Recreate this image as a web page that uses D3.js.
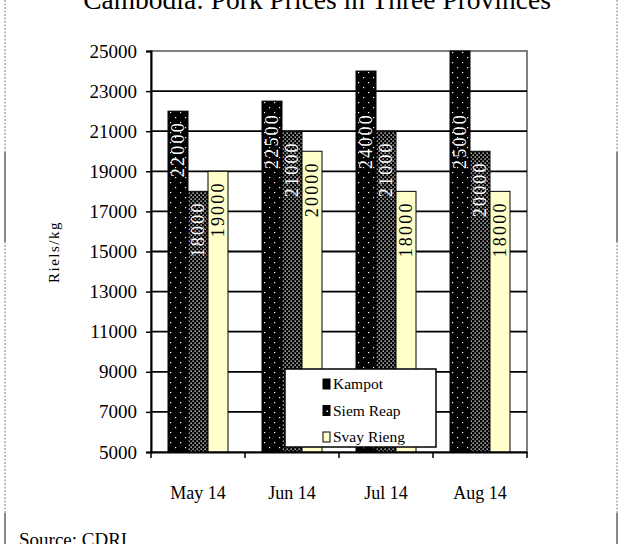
<script src='https://cdnjs.cloudflare.com/ajax/libs/d3/7.8.5/d3.min.js'></script>

<style>
  body { margin: 0; background: #fff; }
  svg text { font-family: "Liberation Serif", "Times New Roman", serif; fill: #000; }
</style>

<body>
<script>
  // chart data
  var months = ["May 14", "Jun 14", "Jul 14", "Aug 14"];
  var provinces = ["Kampot", "Siem Reap", "Svay Rieng"];
  var kampot = [22000, 22500, 24000, 25000];
  var siemReap = [18000, 21000, 21000, 20000];
  var svayRieng = [19000, 20000, 18000, 18000];
  var yTicks = [5000, 7000, 9000, 11000, 13000, 15000, 17000, 19000, 21000, 23000, 25000];

  var series = [kampot, siemReap, svayRieng];
  var fills = ["url(#dotsSparse)", "url(#dotsDense)", "#ffffcc"];
  var labelColors = ["#fff", "#fff", "#000"];

  var width = 621, height = 544;
  var plotLeft = 151, plotRight = 527, plotTop = 51, plotBottom = 452;

  var svg = d3.select("body").append("svg")
    .attr("width", width)
    .attr("height", height);

  // fill patterns
  var defs = svg.append("defs");
  var p1 = defs.append("pattern").attr("id", "dotsSparse")
    .attr("width", 10).attr("height", 10).attr("patternUnits", "userSpaceOnUse");
  p1.append("rect").attr("width", 10).attr("height", 10).attr("fill", "#000");
  p1.append("rect").attr("x", 2).attr("y", 2).attr("width", 1.2).attr("height", 1.2).attr("fill", "#fff");
  p1.append("rect").attr("x", 7).attr("y", 7).attr("width", 1.2).attr("height", 1.2).attr("fill", "#fff");

  var p2 = defs.append("pattern").attr("id", "dotsDense")
    .attr("width", 4).attr("height", 4).attr("patternUnits", "userSpaceOnUse");
  p2.append("rect").attr("width", 4).attr("height", 4).attr("fill", "#000");
  p2.append("rect").attr("x", 0.5).attr("y", 0.5).attr("width", 1.3).attr("height", 1.3).attr("fill", "#fff");
  p2.append("rect").attr("x", 2.5).attr("y", 2.5).attr("width", 1.3).attr("height", 1.3).attr("fill", "#fff");

  // page border
  [5, 617].forEach(function(xx) {
    svg.append("line").attr("x1", xx).attr("x2", xx).attr("y1", 0).attr("y2", height)
      .attr("stroke", "#aaa").attr("stroke-width", 1.5).attr("stroke-dasharray", "2,1.5");
    [[152, 242], [513, 544]].forEach(function(s) {
      svg.append("line").attr("x1", xx).attr("x2", xx).attr("y1", s[0]).attr("y2", s[1])
        .attr("stroke", "#888").attr("stroke-width", 2);
    });
  });

  var x = d3.scaleBand().domain(months).range([plotLeft, plotRight]).paddingInner(0).paddingOuter(0);
  var xs = d3.scaleBand().domain(provinces).range([0, 60]);
  var y = d3.scaleLinear().domain([5000, 25000]).range([plotBottom, plotTop]);

  // title
  svg.append("text").attr("x", 317).attr("y", 9)
    .attr("text-anchor", "middle").style("font-size", "27.5px")
    .text("Cambodia: Pork Prices in Three Provinces");

  // plot border (top/right)
  svg.append("rect").attr("x", plotLeft).attr("y", plotTop)
    .attr("width", plotRight - plotLeft).attr("height", plotBottom - plotTop)
    .attr("fill", "none").attr("stroke", "#808080").attr("stroke-width", 2);

  // gridlines
  svg.selectAll(".grid").data(yTicks.filter(function(d) { return d > 5000 && d < 25000; }))
    .enter().append("line")
    .attr("x1", plotLeft).attr("x2", plotRight)
    .attr("y1", function(d) { return y(d); }).attr("y2", function(d) { return y(d); })
    .attr("stroke", "#000").attr("stroke-width", 1.8);

  // bars
  var groups = svg.selectAll(".grp").data(months).enter().append("g")
    .attr("transform", function(d) { return "translate(" + (x(d) + (x.bandwidth() - 60) / 2) + ",0)"; });

  provinces.forEach(function(p, si) {
    groups.append("rect")
      .attr("x", xs(p))
      .attr("y", function(d, i) { return y(series[si][i]); })
      .attr("width", xs.bandwidth())
      .attr("height", function(d, i) { return plotBottom - y(series[si][i]); })
      .attr("fill", fills[si])
      .attr("stroke", "#000").attr("stroke-width", 1);
  });

  provinces.forEach(function(p, si) {
    groups.append("text")
      .attr("transform", function(d, i) {
        var ty = Math.max(y(series[si][i]) + 10, 113);
        return "translate(" + (xs(p) + xs.bandwidth() / 2 + 6) + "," + ty + ") rotate(-90)";
      })
      .attr("text-anchor", "end")
      .style("font-size", "18px")
      .style("letter-spacing", "2.2px")
      .style("fill", labelColors[si])
      .text(function(d, i) { return series[si][i]; });
  });

  // y axis
  var yAxis = svg.append("g").attr("transform", "translate(" + plotLeft + ",0)")
    .call(d3.axisLeft(y).tickValues(yTicks).tickSize(5).tickPadding(9).tickFormat(d3.format("d")));
  yAxis.select(".domain").attr("stroke-width", 2);
  yAxis.selectAll(".tick line").attr("stroke-width", 1.5);
  yAxis.selectAll("text").style("font-size", "19px").style("font-family", "Liberation Serif, serif");

  // x axis
  var xAxis = svg.append("g").attr("transform", "translate(0," + plotBottom + ")")
    .call(d3.axisBottom(x).tickSize(0).tickPadding(34));
  xAxis.select(".domain").attr("stroke-width", 2);
  xAxis.selectAll("text").style("font-size", "18px").style("font-family", "Liberation Serif, serif");
  svg.selectAll(".xtick").data(d3.range(months.length + 1)).enter().append("line")
    .attr("x1", function(i) { return plotLeft + i * x.bandwidth(); })
    .attr("x2", function(i) { return plotLeft + i * x.bandwidth(); })
    .attr("y1", plotBottom).attr("y2", plotBottom + 6)
    .attr("stroke", "#000").attr("stroke-width", 1.5);

  // y axis title
  svg.append("text").attr("transform", "translate(59,252) rotate(-90)")
    .attr("text-anchor", "middle").style("font-size", "15px").style("letter-spacing", "1.5px")
    .text("Riels/kg");

  // legend
  var lg = svg.append("g").attr("transform", "translate(285,369)");
  lg.append("rect").attr("width", 151).attr("height", 78)
    .attr("fill", "#fff").attr("stroke", "#000").attr("stroke-width", 1.5);
  var legendMarks = ["#000", "#000", "#ffffcc"];
  var items = lg.selectAll(".item").data(provinces).enter().append("g")
    .attr("transform", function(d, i) { return "translate(0," + (20 + i * 26.5) + ")"; });
  items.append("rect").attr("x", 38).attr("y", -10).attr("width", 7).attr("height", 10)
    .attr("fill", function(d, i) { return legendMarks[i]; })
    .attr("stroke", "#000").attr("stroke-width", 1);
  items.filter(function(d, i) { return i === 1; }).append("rect")
    .attr("x", 41.5).attr("y", -5).attr("width", 1.5).attr("height", 1.5).attr("fill", "#fff");
  items.append("text").attr("x", 48).attr("y", 0).style("font-size", "15.5px").text(function(d) { return d; });

  // source
  svg.append("text").attr("x", 19).attr("y", 546).style("font-size", "19px").text("Source: CDRI");
</script>
</body>
